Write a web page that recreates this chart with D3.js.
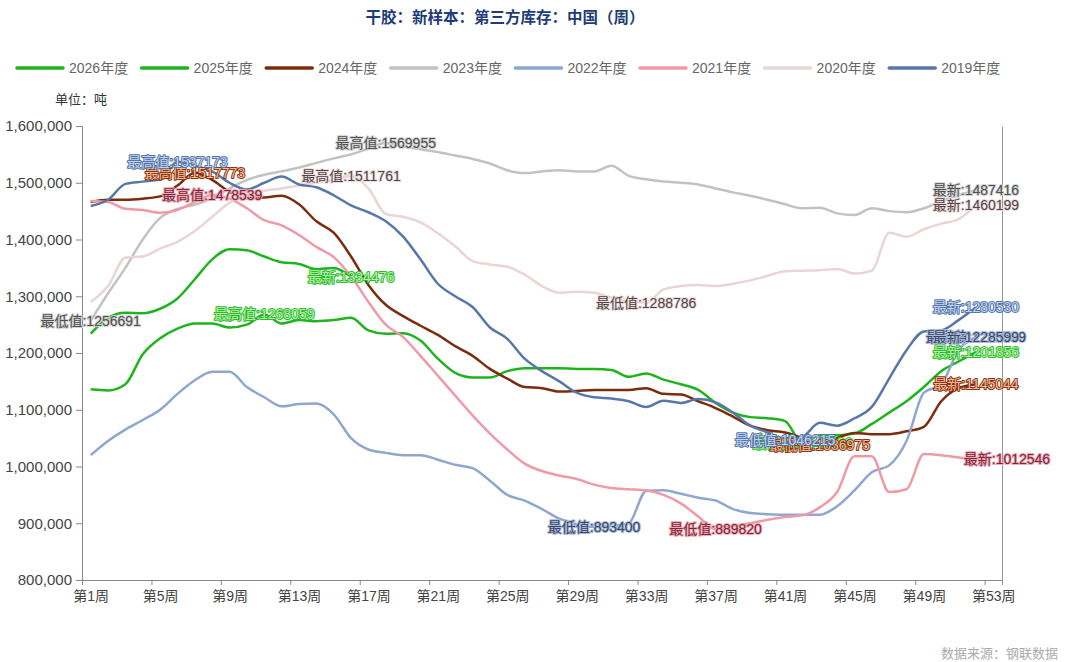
<!DOCTYPE html>
<html>
<head>
<meta charset="utf-8">
<script src="https://cdn.jsdelivr.net/npm/d3@7"></script>
<style>
  body { margin: 0; background: #fff; }
  text { font-family: Helvetica, Arial, "Liberation Sans", "Noto Sans CJK SC", sans-serif; }
</style>
</head>
<body>
<svg id="chart" width="1074" height="662"></svg>
<script>
// Weekly third-party natural rubber inventory in China, one line per season
const weeks = d3.range(1, 54);                      // 第1周 … 第53周
const xTickWeeks = d3.range(1, 54, 4);              // 1, 5, 9 … 53
const yTicks = d3.range(800000, 1600001, 100000);

const seriesNames  = ["2026年度", "2025年度", "2024年度", "2023年度", "2022年度", "2021年度", "2020年度", "2019年度"];
const seriesColors = ["#1eb41e", "#1eb41e", "#7b2c0d", "#c2c2c2", "#8fa7cf", "#ee9aa7", "#ead5d5", "#5877a9"];
const labelFills   = ["#b6f0aa", "#b6f0aa", "#f4bc9a", "#505050", "#3a4868", "#7a2838", "#504444", "#bfd2ef"];
const labelStrokes = ["#2cbc2c", "#2cbc2c", "#8a3612", "#d2d2d2", "#a9b9d8", "#f0a8b4", "#ecdcdc", "#5877a9"];

const v2026 = [1234000, 1262000, 1271000, 1270000, 1278000, 1296000, 1330000, 1365000, 1383000, 1381000,
  1370000, 1360000, 1357000, 1348000, 1350000, 1334476];
const v2025 = [1136000, 1134000, 1145000, 1198000, 1226000, 1243000, 1252000, 1252000, 1245000, 1250000,
  1268059, 1252000, 1258000, 1256000, 1258000, 1262000, 1240000, 1234000, 1235000, 1222000,
  1190000, 1165000, 1157000, 1157000, 1168000, 1173000, 1173000, 1173000, 1172000, 1172000,
  1170000, 1158000, 1164000, 1153000, 1145000, 1135000, 1112000, 1095000, 1087000, 1085000,
  1080000, 1041000, 1055000, 1055000, 1058000, 1075000, 1095000, 1115000, 1140000, 1168000,
  1185000, 1201856];
const v2024 = [1466000, 1470000, 1470000, 1472000, 1476000, 1495000, 1517773, 1505000, 1484000, 1473000,
  1474000, 1477000, 1462000, 1432000, 1412000, 1370000, 1320000, 1285000, 1265000, 1248000,
  1232000, 1212000, 1195000, 1172000, 1155000, 1140000, 1138000, 1132000, 1133000, 1135000,
  1135000, 1135000, 1138000, 1128000, 1127000, 1115000, 1103000, 1088000, 1072000, 1064000,
  1060000, 1050000, 1036975, 1050000, 1059000, 1057000, 1057000, 1062000, 1070000, 1115000,
  1138000, 1145044];
const v2023 = [1256691, 1305000, 1350000, 1400000, 1438000, 1454000, 1461000, 1473000, 1490000, 1505000,
  1514000, 1520000, 1527000, 1535000, 1543000, 1550000, 1560000, 1569955, 1564000, 1559000,
  1554000, 1548000, 1542000, 1534000, 1522000, 1517000, 1520000, 1522000, 1520000, 1520000,
  1530000, 1512000, 1506000, 1502000, 1500000, 1497000, 1490000, 1483000, 1477000, 1470000,
  1462000, 1455000, 1456000, 1446000, 1443000, 1455000, 1450000, 1448000, 1455000, 1468000,
  1478000, 1487416];
const v2022 = [1020000, 1045000, 1065000, 1082000, 1100000, 1128000, 1152000, 1167000, 1167000, 1140000,
  1122000, 1106000, 1110000, 1111000, 1092000, 1050000, 1030000, 1024000, 1020000, 1020000,
  1012000, 1003000, 997000, 975000, 950000, 940000, 925000, 908000, 898000, 893400,
  895000, 900000, 957000, 958000, 952000, 945000, 940000, 925000, 918000, 916000,
  915000, 915000, 915000, 930000, 958000, 990000, 1002000, 1045000, 1130000, 1145000,
  1205000, 1228599];
const v2021 = [1468000, 1466000, 1454000, 1452000, 1447000, 1452000, 1466000, 1478539, 1472000, 1455000,
  1434000, 1425000, 1408000, 1387000, 1369000, 1335000, 1290000, 1250000, 1228000, 1195000,
  1160000, 1125000, 1090000, 1058000, 1030000, 1005000, 992000, 984000, 978000, 968000,
  962000, 960000, 958000, 950000, 935000, 912000, 889820, 895000, 900000, 906000,
  911000, 914000, 928000, 955000, 1018000, 1018000, 955000, 960000, 1022000, 1020000,
  1016000, 1012546];
const v2020 = [1290000, 1318000, 1368000, 1370000, 1384000, 1396000, 1415000, 1440000, 1465000, 1478000,
  1486000, 1490000, 1495000, 1500000, 1505000, 1511761, 1490000, 1445000, 1440000, 1430000,
  1411000, 1388000, 1362000, 1356000, 1352000, 1338000, 1318000, 1306000, 1308000, 1306000,
  1298000, 1292000, 1288786, 1312000, 1318000, 1320000, 1318000, 1322000, 1328000, 1336000,
  1344000, 1345000, 1346000, 1348000, 1340000, 1345000, 1412000, 1405000, 1418000, 1428000,
  1436000, 1460199];
const v2019 = [1459000, 1470000, 1498000, 1502000, 1506000, 1537173, 1530000, 1520000, 1500000, 1488000,
  1500000, 1511000, 1497000, 1492000, 1478000, 1460000, 1448000, 1432000, 1405000, 1365000,
  1322000, 1300000, 1281000, 1245000, 1225000, 1190000, 1168000, 1150000, 1130000, 1122000,
  1120000, 1115000, 1105000, 1116000, 1112000, 1119000, 1113000, 1095000, 1072000, 1060000,
  1046215, 1052000, 1077000, 1072000, 1085000, 1105000, 1155000, 1205000, 1238000, 1240000,
  1258000, 1280530];

const seriesValues = [v2026, v2025, v2024, v2023, v2022, v2021, v2020, v2019];
// the running season only carries its latest reading
const showExtremes = [false, true, true, true, true, true, true, true];

const svg = d3.select("#chart");
svg.append("rect").attr("width", 1074).attr("height", 662).attr("fill", "#fff");

const plotLeft = 82, plotRight = 1002, plotTop = 126, plotBottom = 580;
const x = d3.scaleLinear().domain([0.5, 53.5]).range([plotLeft, plotRight]);
const y = d3.scaleLinear().domain([800000, 1600000]).range([plotBottom, plotTop]);

// title
svg.append("text").attr("x", 505).attr("y", 23).attr("text-anchor", "middle")
  .attr("font-size", 15.5).attr("font-weight", "bold").attr("fill", "#1d3c78")
  .text("干胶：新样本：第三方库存：中国（周）");

// legend
const legend = svg.append("g");
seriesNames.forEach((name, i) => {
  const lx = 17 + i * 124.6;
  legend.append("line").attr("x1", lx).attr("x2", lx + 46).attr("y1", 68).attr("y2", 68)
    .attr("stroke", seriesColors[i]).attr("stroke-width", 3.5).attr("stroke-linecap", "round");
  legend.append("text").attr("x", lx + 52).attr("y", 68).attr("dy", "0.35em")
    .attr("font-size", 14).attr("fill", "#666").text(name);
});

svg.append("text").attr("x", 55).attr("y", 104).attr("font-size", 13).attr("fill", "#333").text("单位：吨");

// y axis
const yAxis = svg.append("g").attr("transform", `translate(${plotLeft},0)`)
  .call(d3.axisLeft(y).tickValues(yTicks).tickFormat(d3.format(",")).tickSize(6).tickPadding(4));
yAxis.select(".domain").attr("stroke", "#888");
yAxis.selectAll(".tick line").attr("stroke", "#888");
yAxis.selectAll(".tick text").attr("font-size", 15).attr("fill", "#444")
  .attr("font-family", "Helvetica, Arial, 'Liberation Sans', sans-serif");

// secondary vertical edge on the right
const yAxisR = svg.append("g").attr("transform", `translate(${plotRight},0)`)
  .call(d3.axisRight(y).tickValues([]).tickSizeOuter(0));
yAxisR.select(".domain").attr("stroke", "#999");

// x axis: tick marks on week boundaries, labels at week centres
const xEdges = xTickWeeks.map(w => w - 0.5).concat([53.5]);
const xAxisTicks = svg.append("g").attr("transform", `translate(0,${plotBottom})`)
  .call(d3.axisBottom(x).tickValues(xEdges).tickFormat("").tickSize(5).tickSizeOuter(0));
xAxisTicks.select(".domain").attr("stroke", "#888");
xAxisTicks.selectAll(".tick line").attr("stroke", "#888");
const xAxisLabels = svg.append("g").attr("transform", `translate(0,${plotBottom})`)
  .call(d3.axisBottom(x).tickValues(xTickWeeks).tickFormat(w => `第${w}周`).tickSize(0).tickPadding(11));
xAxisLabels.select(".domain").remove();
xAxisLabels.selectAll(".tick text").attr("font-size", 14).attr("fill", "#444");

// lines
const line = d3.line().x((d, i) => x(i + 1)).y(d => y(d)).curve(d3.curveMonotoneX);
const linesG = svg.append("g");
seriesValues.forEach((vals, i) => {
  linesG.append("path").datum(vals).attr("d", line)
    .attr("fill", "none").attr("stroke", seriesColors[i]).attr("stroke-width", 2.5)
    .attr("stroke-linejoin", "round");
});

// max / min / latest labels
const labelShift = { "2021年度": { latest: 31 } };
const labelsG = svg.append("g");
seriesValues.forEach((vals, i) => {
  const items = [];
  if (showExtremes[i]) {
    const iMax = d3.maxIndex(vals), iMin = d3.minIndex(vals);
    items.push({ w: iMax + 1, v: vals[iMax], t: "最高值", k: "max" });
    items.push({ w: iMin + 1, v: vals[iMin], t: "最低值", k: "min" });
  }
  items.push({ w: vals.length, v: vals[vals.length - 1], t: "最新", k: "latest" });
  items.forEach(it => {
    const dx = (labelShift[seriesNames[i]] || {})[it.k] || 0;
    labelsG.append("text")
      .attr("x", x(it.w) + dx).attr("y", y(it.v)).attr("dy", "0.35em")
      .attr("text-anchor", "middle").attr("font-size", 14)
      .attr("fill", labelFills[i]).attr("stroke", labelStrokes[i]).attr("stroke-width", 2)
      .attr("paint-order", "stroke").attr("stroke-linejoin", "round")
      .text(`${it.t}:${it.v}`);
  });
});

// source note
svg.append("text").attr("x", 1058).attr("y", 658).attr("text-anchor", "end")
  .attr("font-size", 13).attr("fill", "#aaa").text("数据来源：钢联数据");
</script>
</body>
</html>
